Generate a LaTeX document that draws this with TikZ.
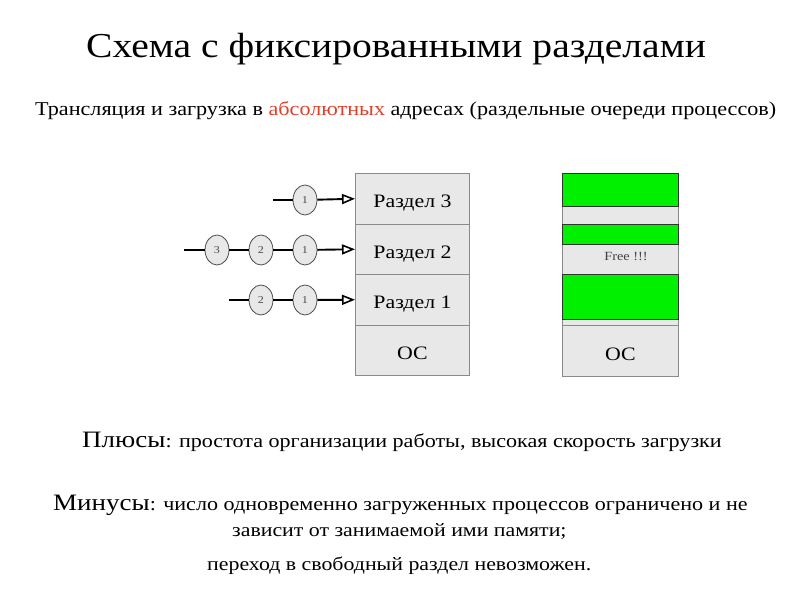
\documentclass[tikz,border=0pt]{standalone}
\usepackage{fontspec}
\setmainfont{Liberation Serif}
\newfontfamily\titlefont[FakeStretch=1.13]{Liberation Serif}
\newfontfamily\bodyfont[FakeStretch=1.15]{Liberation Serif}
\usetikzlibrary{arrows.meta,shapes.geometric}
\definecolor{boxgray}{HTML}{E8E8E8}
\definecolor{edgegray}{HTML}{8A8A8A}
\definecolor{absred}{HTML}{E0402A}
\definecolor{brightgreen}{HTML}{00F000}
\tikzset{
  part/.style={draw=edgegray, fill=boxgray, line width=1pt, minimum width=114pt, minimum height=50.5pt, inner sep=0pt, text height=18pt, text depth=0pt, font=\bodyfont\fontsize{19}{19}\selectfont, anchor=north west},
  greenblk/.style={draw=black!80, fill=brightgreen, line width=1.2pt, minimum width=116pt, inner sep=0pt, anchor=north west},
  proc/.style={ellipse, draw=black!70, fill=boxgray, line width=0.8pt, minimum width=24pt, minimum height=30pt, inner sep=0pt, font=\bodyfont\fontsize{10.5}{10.5}\selectfont, text=black!70},
  queue/.style={line width=1.9pt, black},
  feed/.style={line width=1.9pt, black, -{Triangle[open, length=13pt, width=10pt, line width=1.6pt]}},
  txt/.style={inner sep=0pt, anchor=base west}
}
\begin{document}
\begin{tikzpicture}[x=1pt, y=-1pt]
\useasboundingbox (0,0) rectangle (800,600);
% title
\node[inner sep=0pt, anchor=base] (title) at (396,57) {\titlefont\fontsize{35}{35}\selectfont Схема с фиксированными разделами};
\node[txt] (sub) at (35,115) {\titlefont\fontsize{19.6}{20}\selectfont Трансляция и загрузка в \textcolor{absred}{абсолютных} адресах (раздельные очереди процессов)};
% left column
\node[part] (p3) at (355,173) {Раздел 3};
\node[part] (p2) at (355,223.5) {Раздел 2};
\node[part] (p1) at (355,274) {Раздел 1};
\node[part] (os1) at (355,324.5) {ОС};
% right column
\node[part, minimum width=116pt, minimum height=203pt] (mem) at (562,173) {};
\node[part, minimum width=116pt, minimum height=51pt] (os2) at (562,325) {ОС};
\node[greenblk, minimum height=33pt] (g1) at (562,173) {};
\node[greenblk, minimum height=20pt] (g2) at (562,224) {};
\node[greenblk, minimum height=45pt] (g3) at (562,274) {};
\node[inner sep=0pt, font=\bodyfont\fontsize{12.5}{12.5}\selectfont, text=black!75] (free) at (626,256) {Free !!!};
% queues
\coordinate (s3) at (273,200);
\coordinate (s2) at (184,250);
\coordinate (s1) at (229,300);
\node[proc] (a1) at (305,200) {1};
\node[proc] (b3) at (217,250) {3};
\node[proc] (b2) at (261,250) {2};
\node[proc] (b1) at (305,250) {1};
\node[proc] (c2) at (261,300) {2};
\node[proc] (c1) at (305,300) {1};
\draw[queue] (s3) -- (a1);
\draw[feed] (a1) -- (p3.west);
\draw[queue] (s2) -- (b3);
\draw[queue] (b3) -- (b2);
\draw[queue] (b2) -- (b1);
\draw[feed] (b1) -- (p2.west);
\draw[queue] (s1) -- (c2);
\draw[queue] (c2) -- (c1);
\draw[feed] (c1) -- (p1.west);
% bottom text
\node[txt] (plus) at (82,447) {\bodyfont\fontsize{23.5}{23.5}\selectfont Плюсы\fontsize{19.2}{19.2}\selectfont: простота организации работы, высокая скорость загрузки};
\node[txt] (minus) at (53,510) {\bodyfont\fontsize{23.5}{23.5}\selectfont Минусы\fontsize{19.2}{19.2}\selectfont: число одновременно загруженных процессов ограничено и не};
\node[txt] (minus2) at (232,536) {\bodyfont\fontsize{19}{19}\selectfont зависит от занимаемой ими памяти;};
\node[txt] (minus3) at (207,570) {\bodyfont\fontsize{19}{19}\selectfont переход в свободный раздел невозможен.};
\end{tikzpicture}
\end{document}
